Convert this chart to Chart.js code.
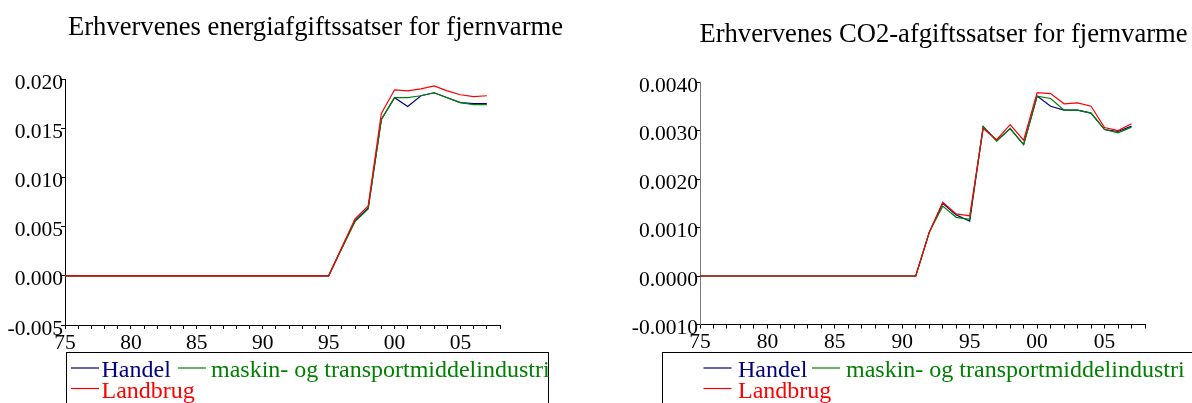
<!DOCTYPE html>
<html>
<head>
<meta charset="utf-8">
<script src="https://cdn.jsdelivr.net/npm/chart.js@4.4.1/dist/chart.umd.min.js"></script>
<style>
  html, body { margin: 0; padding: 0; background: #ffffff; overflow: hidden; }
  #wrap { position: relative; width: 1192px; height: 403px; }
  canvas { position: absolute; top: 0; }
  #energy { left: 0; }
  #co2 { left: 596px; }
</style>
</head>
<body>
<div id="wrap">
  <canvas id="energy" width="596" height="403"></canvas>
  <canvas id="co2" width="596" height="403"></canvas>
</div>
<script>
// Years on the x axis
const years = [1975, 1976, 1977, 1978, 1979, 1980, 1981, 1982, 1983, 1984,
               1985, 1986, 1987, 1988, 1989, 1990, 1991, 1992, 1993, 1994,
               1995, 1996, 1997, 1998, 1999, 2000, 2001, 2002, 2003, 2004,
               2005, 2006, 2007];

const seriesNames = ['Handel', 'maskin- og transportmiddelindustri', 'Landbrug'];
const seriesColors = ['#000080', '#008000', '#ff0000'];

// Energy tax rates for district heating (left panel)
const energyHandel = [0, 0, 0, 0, 0, 0, 0, 0, 0, 0,
                      0, 0, 0, 0, 0, 0, 0, 0, 0, 0,
                      0, 0.0028, 0.0056, 0.0069, 0.0159, 0.0181, 0.0172, 0.0183, 0.0186, 0.0181,
                      0.0176, 0.0175, 0.0175];
const energyMaskin = [0, 0, 0, 0, 0, 0, 0, 0, 0, 0,
                      0, 0, 0, 0, 0, 0, 0, 0, 0, 0,
                      0, 0.0028, 0.0055, 0.0068, 0.0159, 0.0181, 0.0181, 0.0183, 0.0186, 0.0181,
                      0.0176, 0.0174, 0.0174];
const energyLandbrug = [0, 0, 0, 0, 0, 0, 0, 0, 0, 0,
                        0, 0, 0, 0, 0, 0, 0, 0, 0, 0,
                        0, 0.0029, 0.0058, 0.0071, 0.0165, 0.0189, 0.0188, 0.0190, 0.0193, 0.0188,
                        0.0184, 0.0182, 0.0183];

// CO2 tax rates for district heating (right panel)
const co2Handel = [0, 0, 0, 0, 0, 0, 0, 0, 0, 0,
                   0, 0, 0, 0, 0, 0, 0, 0.00090, 0.00150, 0.00126,
                   0.00113, 0.00308, 0.00279, 0.00304, 0.00271, 0.00371, 0.00350, 0.00342, 0.00342, 0.00336,
                   0.00302, 0.00298, 0.00309];
const co2Maskin = [0, 0, 0, 0, 0, 0, 0, 0, 0, 0,
                   0, 0, 0, 0, 0, 0, 0, 0.00090, 0.00144, 0.00121,
                   0.00117, 0.00308, 0.00278, 0.00304, 0.00271, 0.00371, 0.00366, 0.00342, 0.00342, 0.00336,
                   0.00302, 0.00295, 0.00307];
const co2Landbrug = [0, 0, 0, 0, 0, 0, 0, 0, 0, 0,
                     0, 0, 0, 0, 0, 0, 0, 0.00090, 0.00152, 0.00128,
                     0.00124, 0.00304, 0.00281, 0.00312, 0.00280, 0.00378, 0.00376, 0.00355, 0.00357, 0.00350,
                     0.00306, 0.00300, 0.00314];

// Axis settings
const xMin = 1975, xMax = 2008, xLabelEvery = 5;
const energyTicks = { min: -0.005, max: 0.020, step: 0.005, decimals: 3 };
const co2Ticks = { min: -0.001, max: 0.004, step: 0.001, decimals: 4 };

const energyTitle = 'Erhvervenes energiafgiftssatser for fjernvarme';
const co2Title = 'Erhvervenes CO2-afgiftssatser for fjernvarme';

const SERIF = '"Liberation Serif", "Times New Roman", "DejaVu Serif", serif';

// Title and boxed legend drawn on top of each panel
const panelDecor = {
  id: 'panelDecor',
  afterDraw(chart, args, o) {
    const ctx = chart.ctx;
    ctx.save();
    ctx.fillStyle = '#000';
    ctx.font = '26.6px ' + SERIF;
    ctx.textAlign = 'center';
    ctx.textBaseline = 'middle';
    ctx.fillText(o.title, o.titleX, o.titleY);

    // legend frame
    ctx.strokeStyle = '#000';
    ctx.lineWidth = 1;
    ctx.strokeRect(o.box.x + 0.5, o.box.y + 0.5, o.box.w, o.box.h);

    ctx.font = '24px ' + SERIF;
    ctx.textAlign = 'left';
    ctx.textBaseline = 'alphabetic';
    chart.data.datasets.forEach((ds, i) => {
      const it = o.items[i];
      ctx.strokeStyle = ds.borderColor;
      ctx.lineWidth = 1.2;
      ctx.beginPath();
      ctx.moveTo(it.x, it.y - 9);
      ctx.lineTo(it.x + 28, it.y - 9);
      ctx.stroke();
      ctx.fillStyle = ds.borderColor;
      ctx.fillText(ds.label, it.tx, it.y);
    });
    ctx.restore();
  }
};

function makeDatasets(values) {
  // later series are drawn on top (red over green over blue)
  return values.map((v, i) => ({
    label: seriesNames[i],
    data: years.map((y, k) => ({ x: y, y: v[k] })),
    borderColor: seriesColors[i],
    backgroundColor: seriesColors[i],
    borderWidth: 1.2,
    pointRadius: 0,
    tension: 0,
    fill: false,
    order: values.length - i
  }));
}

function makePanel(canvasId, values, yt, pad, yAxisWidth, yBorderColor, decor) {
  return new Chart(document.getElementById(canvasId), {
    type: 'line',
    data: { datasets: makeDatasets(values) },
    options: {
      responsive: false,
      animation: false,
      events: [],
      layout: { padding: pad },
      plugins: {
        legend: { display: false },
        title: { display: false },
        tooltip: { enabled: false },
        panelDecor: decor
      },
      scales: {
        x: {
          type: 'linear',
          min: xMin,
          max: xMax,
          afterFit(s) { s.height = 403 - pad.bottomEdge; },
          afterBuildTicks(s) {
            const t = [];
            for (let v = xMin; v <= xMax; v++) t.push({ value: v });
            s.ticks = t;
          },
          ticks: {
            autoSkip: false,
            maxRotation: 0,
            padding: 1,
            color: '#000',
            font: { family: SERIF, size: 21.5 },
            callback: v => (v % xLabelEvery === 0 && v < xMax) ? String(v % 100).padStart(2, '0') : ''
          },
          grid: { drawOnChartArea: false, drawTicks: true, tickLength: 4, color: '#000', lineWidth: 1 },
          border: { display: true, color: '#000', width: 1 }
        },
        y: {
          type: 'linear',
          min: yt.min,
          max: yt.max,
          afterFit(s) { s.width = yAxisWidth; },
          ticks: {
            stepSize: yt.step,
            padding: -2,
            labelOffset: 4,
            color: '#000',
            font: { family: SERIF, size: 21.5 },
            callback: v => (Math.abs(v) < 1e-12 ? 0 : v).toFixed(yt.decimals)
          },
          grid: { drawOnChartArea: false, drawTicks: true, tickLength: 4, color: '#000', lineWidth: 1 },
          border: { display: true, color: yBorderColor, width: 1 }
        }
      }
    },
    plugins: [panelDecor]
  });
}

makePanel('energy', [energyHandel, energyMaskin, energyLandbrug], energyTicks,
  { left: 0, top: 79, right: 96, bottom: 0, bottomEdge: 325 }, 65, '#000',
  {
    title: energyTitle, titleX: 315.5, titleY: 28,
    box: { x: 66, y: 352, w: 482, h: 80 },
    items: [
      { x: 71, tx: 101.5, y: 377 },
      { x: 178, tx: 211, y: 377 },
      { x: 71, tx: 101.5, y: 397.5 }
    ]
  });

makePanel('co2', [co2Handel, co2Maskin, co2Landbrug], co2Ticks,
  { left: 0, top: 82, right: 47, bottom: 0, bottomEdge: 324.5 }, 104, '#7a7a7a',
  {
    title: co2Title, titleX: 347.5, titleY: 35,
    box: { x: 66, y: 352, w: 600, h: 80 },
    items: [
      { x: 107.5, tx: 142, y: 377 },
      { x: 216, tx: 250, y: 377 },
      { x: 107.5, tx: 142, y: 397.5 }
    ]
  });
</script>
</body>
</html>
